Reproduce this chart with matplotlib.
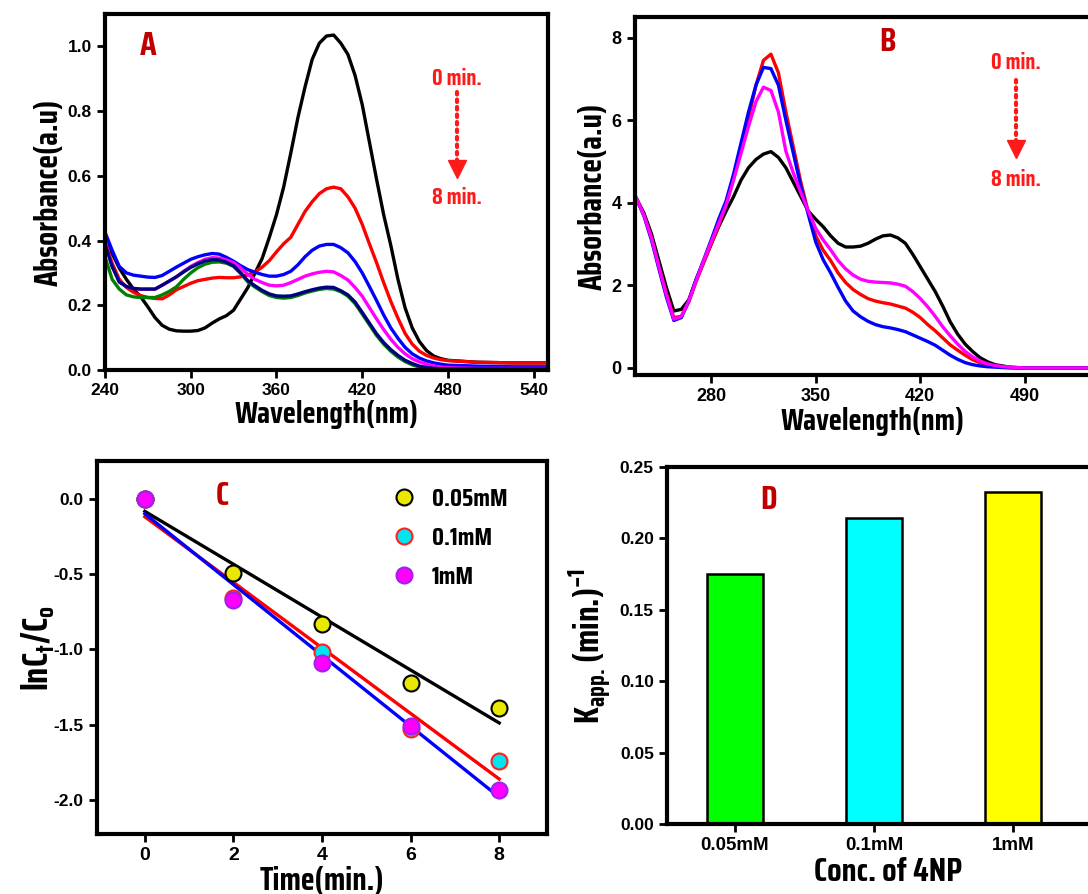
import matplotlib
matplotlib.use("Agg")
import matplotlib.pyplot as plt
import numpy as np

# ---------------- data ----------------
# Panel A: UV-vis spectra, 0 -> 8 min
wl_a = list(range(240, 485, 5)) + [500, 525, 550]
a_black = [0.40, 0.36, 0.315, 0.28, 0.25, 0.226, 0.195, 0.162, 0.138, 0.126,
           0.121, 0.12, 0.12, 0.122, 0.13, 0.145, 0.158, 0.168, 0.185, 0.22,
           0.255, 0.30, 0.345, 0.41, 0.48, 0.565, 0.67, 0.78, 0.875, 0.96,
           1.01, 1.032, 1.035, 1.01, 0.975, 0.91, 0.82, 0.705, 0.59, 0.48,
           0.385, 0.28, 0.192, 0.13, 0.088, 0.06, 0.043, 0.035, 0.03,
           0.024, 0.022, 0.022]
a_red = [0.395, 0.33, 0.28, 0.255, 0.24, 0.23, 0.224, 0.221, 0.22, 0.232,
         0.248, 0.258, 0.268, 0.276, 0.28, 0.284, 0.286, 0.285, 0.285, 0.288,
         0.294, 0.303, 0.318, 0.338, 0.365, 0.39, 0.41, 0.45, 0.49, 0.52,
         0.545, 0.56, 0.565, 0.56, 0.535, 0.50, 0.45, 0.39, 0.332, 0.27,
         0.212, 0.16, 0.113, 0.08, 0.058, 0.045, 0.037, 0.032, 0.029,
         0.024, 0.022, 0.022]
a_blue = [0.426, 0.37, 0.32, 0.30, 0.293, 0.29, 0.287, 0.286, 0.292, 0.305,
          0.318, 0.33, 0.342, 0.35, 0.356, 0.36, 0.358, 0.348, 0.336, 0.322,
          0.31, 0.302, 0.295, 0.29, 0.29, 0.295, 0.305, 0.325, 0.35, 0.37,
          0.383, 0.388, 0.388, 0.378, 0.362, 0.335, 0.30, 0.258, 0.215, 0.17,
          0.13, 0.098, 0.07, 0.05, 0.037, 0.028, 0.022, 0.018, 0.015,
          0.012, 0.01, 0.01]
a_magenta = [0.40, 0.32, 0.272, 0.258, 0.252, 0.25, 0.25, 0.25, 0.262, 0.275,
             0.288, 0.305, 0.32, 0.332, 0.342, 0.347, 0.346, 0.34, 0.332, 0.315,
             0.295, 0.28, 0.27, 0.262, 0.26, 0.262, 0.27, 0.28, 0.29, 0.297,
             0.302, 0.305, 0.303, 0.292, 0.278, 0.255, 0.228, 0.193, 0.158, 0.125,
             0.095, 0.07, 0.05, 0.035, 0.025, 0.018, 0.012, 0.009, 0.007,
             0.005, 0.005, 0.005]
a_green = [0.35, 0.28, 0.25, 0.232, 0.226, 0.224, 0.224, 0.224, 0.232, 0.243,
           0.257, 0.28, 0.30, 0.316, 0.327, 0.333, 0.334, 0.33, 0.32, 0.298,
           0.272, 0.256, 0.242, 0.23, 0.224, 0.222, 0.224, 0.23, 0.238, 0.244,
           0.249, 0.252, 0.25, 0.242, 0.228, 0.205, 0.173, 0.14, 0.107, 0.08,
           0.058, 0.04, 0.026, 0.016, 0.009, 0.005, 0.002, 0.0, 0.0,
           0.0, 0.0, 0.0]
a_navy = [0.39, 0.32, 0.272, 0.258, 0.252, 0.25, 0.25, 0.25, 0.262, 0.275,
          0.288, 0.303, 0.317, 0.328, 0.337, 0.341, 0.34, 0.333, 0.322, 0.30,
          0.276, 0.26, 0.246, 0.235, 0.229, 0.228, 0.229, 0.235, 0.242, 0.248,
          0.253, 0.256, 0.255, 0.245, 0.232, 0.21, 0.178, 0.145, 0.112, 0.085,
          0.063, 0.045, 0.03, 0.02, 0.012, 0.008, 0.005, 0.004, 0.003,
          0.003, 0.003, 0.003]

# Panel B: UV-vis spectra
wl_b = list(range(230, 485, 5)) + [490, 510, 550]
b_black = [4.1, 3.75, 3.25, 2.6, 1.95, 1.38, 1.42, 1.65, 2.15, 2.57,
           3.0, 3.42, 3.8, 4.15, 4.55, 4.85, 5.05, 5.18, 5.24, 5.1,
           4.85, 4.5, 4.15, 3.8, 3.6, 3.42, 3.2, 3.02, 2.93, 2.93,
           2.95, 3.02, 3.12, 3.2, 3.22, 3.15, 3.02, 2.75, 2.45, 2.15,
           1.85, 1.5, 1.12, 0.82, 0.58, 0.4, 0.25, 0.15, 0.08, 0.05,
           0.02, 0.0, 0.0, 0.0]
b_red = [4.1, 3.7, 3.15, 2.45, 1.8, 1.22, 1.25, 1.6, 2.1, 2.55,
         3.0, 3.45, 3.95, 4.6, 5.3, 6.05, 6.85, 7.45, 7.6, 7.15,
         6.2, 5.35, 4.5, 3.78, 3.2, 2.85, 2.6, 2.3, 2.07, 1.9,
         1.78, 1.68, 1.62, 1.58, 1.55, 1.5, 1.45, 1.35, 1.22, 1.05,
         0.9, 0.73, 0.56, 0.43, 0.31, 0.2, 0.13, 0.08, 0.05, 0.03,
         0.015, 0.0, 0.0, 0.0]
b_blue = [4.1, 3.68, 3.1, 2.4, 1.72, 1.15, 1.22, 1.62, 2.15, 2.62,
          3.1, 3.6, 4.05, 4.7, 5.45, 6.2, 6.85, 7.28, 7.25, 6.85,
          6.0, 5.2, 4.4, 3.72, 3.05, 2.62, 2.3, 1.95, 1.62, 1.38,
          1.24, 1.13, 1.05, 1.0, 0.97, 0.93, 0.88, 0.8, 0.72, 0.64,
          0.55, 0.43, 0.31, 0.21, 0.13, 0.08, 0.05, 0.03, 0.02, 0.01,
          0.0, 0.0, 0.0, 0.0]
b_magenta = [4.1, 3.7, 3.15, 2.45, 1.78, 1.18, 1.25, 1.62, 2.12, 2.6,
             3.05, 3.5, 3.95, 4.55, 5.2, 5.85, 6.45, 6.8, 6.72, 6.2,
             5.25, 4.72, 4.25, 3.8, 3.38, 3.1, 2.86, 2.6, 2.4, 2.25,
             2.15, 2.1, 2.08, 2.07, 2.06, 2.03, 1.98, 1.85, 1.68, 1.48,
             1.25, 1.0, 0.78, 0.58, 0.4, 0.27, 0.17, 0.1, 0.06, 0.035,
             0.02, 0.0, 0.0, 0.0]

# Panel C: kinetics ln(Ct/C0)
time_c = [0, 2, 4, 6, 8]
c_005 = [0.0, -0.49, -0.83, -1.22, -1.39]
c_01 = [0.0, -0.66, -1.02, -1.53, -1.74]
c_1 = [0.0, -0.67, -1.09, -1.51, -1.93]
c_labels = ["0.05mM", "0.1mM", "1mM"]

# Panel D: apparent rate constants
conc_d = ["0.05mM", "0.1mM", "1mM"]
kapp_d = [0.175, 0.214, 0.2325]

# ---------------- style ----------------
COND = ["Saira Condensed", "DejaVu Sans"]
TICKF = ["Liberation Sans", "DejaVu Sans"]
LETTER_C = "#c00000"
ANN_C = "#ff1a1a"

fig = plt.figure(figsize=(10.88, 8.94), dpi=100)
W, H = 1088.0, 894.0


def add_ax(l, t, r, b):
    return fig.add_axes([l / W, 1 - b / H, (r - l) / W, (b - t) / H])


def style(ax, tsize=12):
    for s in ax.spines.values():
        s.set_linewidth(3)
    ax.tick_params(direction="out", length=6, width=2, labelsize=tsize)
    for lab in ax.get_xticklabels() + ax.get_yticklabels():
        lab.set_fontfamily(TICKF)
        lab.set_fontweight("bold")


def label(ax, xl, yl, xsize=22, ysize=22, xpad=2, ypad=4):
    ax.set_xlabel(xl, family=COND, fontweight="bold", fontsize=xsize, labelpad=xpad)
    ax.set_ylabel(yl, family=COND, fontweight="bold", fontsize=ysize, labelpad=ypad)


def letter(ax, x, y, s):
    ax.text(x, y, s, color=LETTER_C, family=COND, fontweight="bold",
            fontsize=24, ha="center", va="center")


def time_arrow(ax, x, y0, y1, y2, y3, size=16):
    ax.text(x, y0, "0 min.", color=ANN_C, family=COND, fontweight="bold",
            fontsize=size, ha="center", va="center")
    ax.plot([x, x], [y1, y2], color=ANN_C, lw=3, ls=(0, (0.6, 1.2)),
            dash_capstyle="round")
    ax.plot([x], [y2], marker="v", ms=13, color=ANN_C, mec=ANN_C)
    ax.text(x, y3, "8 min.", color=ANN_C, family=COND, fontweight="bold",
            fontsize=size, ha="center", va="center")


lw = 2.4

# ---------------- Panel A ----------------
axA = add_ax(105, 14, 548, 370)
axA.plot(wl_a, a_black, color="black", lw=lw)
axA.plot(wl_a, a_red, color="#ff0000", lw=lw)
axA.plot(wl_a, a_blue, color="#0000ff", lw=lw)
axA.plot(wl_a, a_magenta, color="#ff00ff", lw=lw)
axA.plot(wl_a, a_green, color="#008000", lw=lw)
axA.plot(wl_a, a_navy, color="#000080", lw=lw)
axA.set_xlim(240, 550)
axA.set_ylim(0, 1.1)
axA.set_xticks([240, 300, 360, 420, 480, 540])
axA.set_yticks([0.0, 0.2, 0.4, 0.6, 0.8, 1.0])
axA.set_yticklabels(["0.0", "0.2", "0.4", "0.6", "0.8", "1.0"])
style(axA, 12.5)
label(axA, "Wavelength(nm)", "Absorbance(a.u)", xsize=22, ysize=23, xpad=1, ypad=3)
letter(axA, 270, 1.0, "A")
time_arrow(axA, 486, 0.90, 0.86, 0.62, 0.53)

# ---------------- Panel B ----------------
axB = add_ax(635, 17, 1110, 375)
axB.plot(wl_b, b_black, color="black", lw=lw)
axB.plot(wl_b, b_red, color="#ff0000", lw=lw)
axB.plot(wl_b, b_blue, color="#0000ff", lw=lw)
axB.plot(wl_b, b_magenta, color="#ff00ff", lw=lw)
axB.set_xlim(229, 547)
axB.set_ylim(-0.17, 8.5)
axB.set_xticks([280, 350, 420, 490])
axB.set_yticks([0, 2, 4, 6, 8])
style(axB, 13)
axB.spines["right"].set_visible(False)
label(axB, "Wavelength(nm)", "Absorbance(a.u)", xsize=22, ysize=23, xpad=1, ypad=3)
letter(axB, 398, 7.9, "B")
time_arrow(axB, 484, 7.39, 6.98, 5.3, 4.56)

# ---------------- Panel C ----------------
axC = add_ax(97, 461, 547, 834)
t = np.array(time_c, dtype=float)
series = [(c_005, "#e8e800", "black", "black"),
          (c_01, "#00e5ee", "#ff2020", "#ff0000"),
          (c_1, "#ff00ff", "#a020f0", "#0000ff")]
for vals, fc, ec, lc in series:
    k, b0 = np.polyfit(t, vals, 1)
    axC.plot(t, k * t + b0, color=lc, lw=2.4, zorder=2)
for (vals, fc, ec, lc), lab in zip(series, c_labels):
    axC.plot(t, vals, ls="none", marker="o", ms=11.5, mfc=fc, mec=ec, mew=1.5,
             label=lab, zorder=3)
axC.set_xlim(-1.08, 9.08)
axC.set_ylim(-2.225, 0.25)
axC.set_xticks([0, 2, 4, 6, 8])
axC.set_yticks([0.0, -0.5, -1.0, -1.5, -2.0])
axC.set_yticklabels(["0.0", "-0.5", "-1.0", "-1.5", "-2.0"])
style(axC, 12.5)
for lab in axC.get_xticklabels():
    lab.set_fontsize(14)
label(axC, "Time(min.)", "lnC$_\\mathregular{t}$/C$_\\mathregular{o}$",
      xsize=23, ysize=26, xpad=1, ypad=-2)
letter(axC, 1.74, 0.02, "C")
axC.legend(loc="upper left", bbox_to_anchor=(0.655, 0.93), frameon=False,
           numpoints=1, handlelength=1.0, handletextpad=0.6, labelspacing=0.6,
           borderaxespad=0.0, borderpad=0.0,
           prop={"family": COND, "weight": "bold", "size": 18})

# ---------------- Panel D ----------------
axD = add_ax(667, 467, 1110, 824)
xd = np.arange(len(conc_d))
axD.bar(xd, kapp_d, width=0.4, color=["#00ff00", "#00ffff", "#ffff00"],
        edgecolor="black", linewidth=1.8, zorder=2)
axD.set_xlim(-0.49, 2.7)
axD.set_ylim(0, 0.25)
axD.set_xticks(xd)
axD.set_xticklabels(conc_d)
axD.set_yticks([0.0, 0.05, 0.10, 0.15, 0.20, 0.25])
axD.set_yticklabels(["0.00", "0.05", "0.10", "0.15", "0.20", "0.25"])
style(axD, 12.5)
for lab in axD.get_xticklabels():
    lab.set_fontsize(13.5)
axD.spines["right"].set_visible(False)
label(axD, "Conc. of 4NP", "K$_\\mathregular{app.}$(min.)$^\\mathregular{-1}$",
      xsize=24, ysize=25, xpad=2, ypad=5)
letter(axD, 0.24, 0.227, "D")

fig.savefig("out.png", dpi=100)
